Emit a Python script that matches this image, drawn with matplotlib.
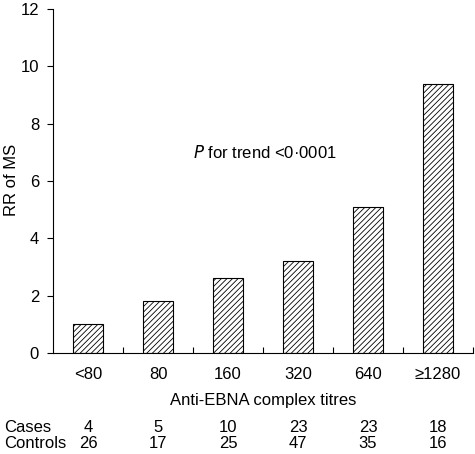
import matplotlib

matplotlib.use("Agg")
import matplotlib.pyplot as plt
import numpy as np

plt.rcParams["font.family"] = ["Liberation Sans", "DejaVu Sans"]
plt.rcParams["hatch.linewidth"] = 0.6

categories = ["<80", "80", "160", "320", "640", "\u22651280"]
rr = [1.0, 1.8, 2.6, 3.2, 5.1, 9.4]
cases = [4, 5, 10, 23, 23, 18]
controls = [26, 17, 25, 47, 35, 16]

FS = 12

fig = plt.figure(figsize=(4.75, 4.54), dpi=100)
ax = fig.add_axes([53 / 475, 101 / 454, 420 / 475, 344 / 454])

x = np.arange(len(categories))
ax.bar(x, rr, width=0.43, color="white", edgecolor="black", linewidth=0.8, hatch="//////")

ax.set_xlim(-0.5, len(categories) - 0.5)
ax.set_ylim(0, 12)
ax.set_yticks(range(0, 13, 2))
ax.tick_params(axis="y", direction="out", length=4, width=0.8, labelsize=FS, pad=6)

ax.set_xticks(x)
ax.set_xticklabels(categories, fontsize=FS)
ax.tick_params(axis="x", length=0, pad=10)
ax.set_xticks(np.arange(len(categories)) + 0.5, minor=True)
ax.tick_params(axis="x", which="minor", direction="in", length=4, width=0.8)

for s in ["top", "right"]:
    ax.spines[s].set_visible(False)
ax.spines["left"].set_linewidth(0.8)
ax.spines["bottom"].set_linewidth(0.8)

ax.set_xlabel("Anti-EBNA complex titres", fontsize=FS, labelpad=8)
fig.text(12 / 475, 1 - 180 / 454, "RR of MS", fontsize=FS, rotation=90,
         ha="center", va="center")

ax.text(1.5, 7.0, r"$\it{P}$ for trend <0·0001", fontsize=FS, ha="left", va="center")

fig.text(4 / 475, 1 - 427 / 454, "Cases", fontsize=FS, ha="left", va="center")
fig.text(4 / 475, 1 - 444 / 454, "Controls", fontsize=FS, ha="left", va="center")
for i in range(len(categories)):
    xf = (53 + 70 * i + 35) / 475
    fig.text(xf, 1 - 427 / 454, str(cases[i]), fontsize=FS, ha="center", va="center")
    fig.text(xf, 1 - 444 / 454, str(controls[i]), fontsize=FS, ha="center", va="center")

fig.savefig("out.png", dpi=100)
